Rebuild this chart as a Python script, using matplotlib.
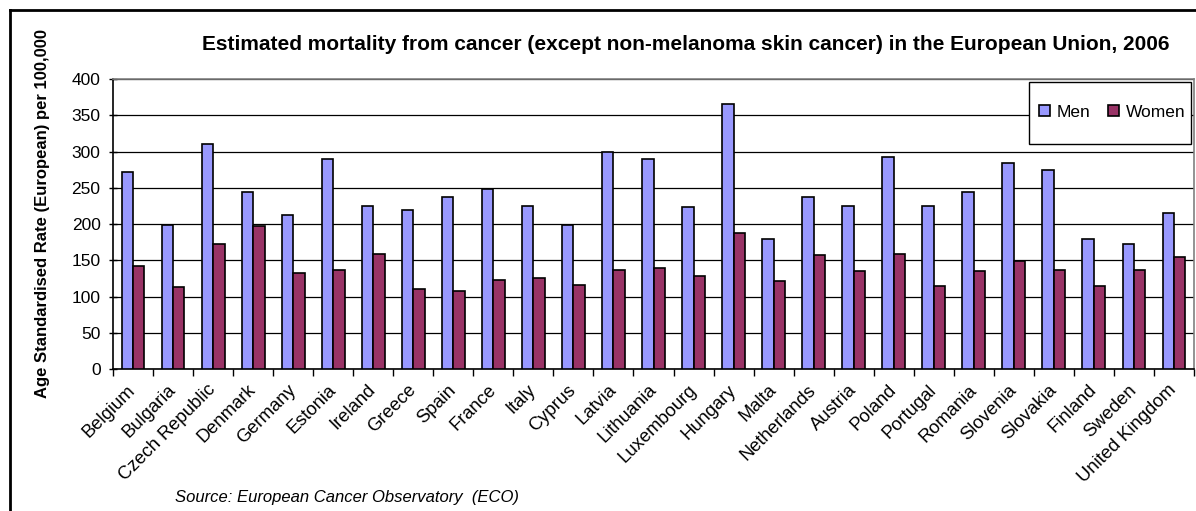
import matplotlib
matplotlib.use("Agg")
import matplotlib.pyplot as plt
import matplotlib.transforms as mtransforms
import numpy as np
from matplotlib.lines import Line2D
from matplotlib.patches import Rectangle

plt.rcParams['font.family'] = ['Liberation Sans', 'DejaVu Sans']

countries = ["Belgium", "Bulgaria", "Czech Republic", "Denmark", "Germany", "Estonia",
             "Ireland", "Greece", "Spain", "France", "Italy", "Cyprus", "Latvia",
             "Lithuania", "Luxembourg", "Hungary", "Malta", "Netherlands", "Austria",
             "Poland", "Portugal", "Romania", "Slovenia", "Slovakia", "Finland",
             "Sweden", "United Kingdom"]
men = [272, 199, 310, 244, 213, 289, 225, 220, 237, 248, 225, 199, 299,
       289, 223, 365, 180, 237, 225, 293, 225, 244, 284, 275, 180, 173, 215]
women = [142, 113, 173, 197, 133, 137, 159, 111, 107, 123, 126, 116, 137,
         140, 128, 187, 121, 157, 135, 159, 114, 135, 149, 137, 114, 137, 154]
yticks = [0, 50, 100, 150, 200, 250, 300, 350, 400]

title = "Estimated mortality from cancer (except non-melanoma skin cancer) in the European Union, 2006"
ylabel = "Age Standardised Rate (European) per 100,000"
source = "Source: European Cancer Observatory  (ECO)"

W, H = 1196, 511
fig = plt.figure(figsize=(W / 100, H / 100), dpi=100)

# outer frame (left and top edges visible)
fig.add_artist(Line2D([10 / W, 10 / W], [0, 1 - 10 / H], color='black', lw=2, transform=fig.transFigure))
fig.add_artist(Line2D([10 / W, 1], [1 - 10 / H, 1 - 10 / H], color='black', lw=2, transform=fig.transFigure))

left, right, top, bottom = 113, 1194, 79, 369
ax = fig.add_axes([left / W, 1 - bottom / H, (right - left) / W, (bottom - top) / H])

n = len(countries)
x = np.arange(n)
bw = 1 / 3.5
ax.bar(x - bw / 2, men, bw, color='#9999FF', edgecolor='black', linewidth=1.2, label='Men', zorder=3)
ax.bar(x + bw / 2, women, bw, color='#993366', edgecolor='black', linewidth=1.2, label='Women', zorder=3)

ax.set_xlim(-0.5, n - 0.5)
ax.set_ylim(0, 400)
ax.set_yticks(yticks)
ax.set_yticklabels([str(v) for v in yticks], fontsize=12.5)
ax.yaxis.grid(True, color='black', lw=0.9, zorder=0)
ax.set_axisbelow(True)

ax.set_xticks(x)
ax.set_xticklabels(countries, rotation=45, ha='right', rotation_mode='anchor', fontsize=13.2)
ax.tick_params(axis='x', length=0, pad=9)
shift = mtransforms.ScaledTranslation(-6 / 100, 0, fig.dpi_scale_trans)
for lab in ax.get_xticklabels():
    lab.set_transform(lab.get_transform() + shift)
ax.set_xticks(np.arange(-0.5, n, 1), minor=True)
ax.tick_params(axis='x', which='minor', length=5, direction='out', color='black', width=1)
ax.tick_params(axis='y', length=6, direction='inout', width=1, pad=6)

for s in ['top', 'right']:
    ax.spines[s].set_color('#808080')
    ax.spines[s].set_linewidth(1.2)
ax.spines['left'].set_color('black')
ax.spines['bottom'].set_color('black')
ax.spines['left'].set_linewidth(1.2)
ax.spines['bottom'].set_linewidth(1.2)

# legend box
lx0, lx1 = (1029 - left) / (right - left), (1191 - left) / (right - left)
ly0, ly1 = (bottom - 144) / (bottom - top), (bottom - 82) / (bottom - top)
ax.add_patch(Rectangle((lx0, ly0), lx1 - lx0, ly1 - ly0, transform=ax.transAxes,
                       facecolor='white', edgecolor='black', lw=1, zorder=5, clip_on=False))
leg = ax.legend(loc='center', bbox_to_anchor=((lx0 + lx1) / 2 + 0.002, (bottom - 112) / (bottom - top)),
                ncol=2, fontsize=12.5, frameon=False,
                handlelength=0.65, handleheight=0.65, handletextpad=0.4, columnspacing=1.0,
                borderpad=0, borderaxespad=0)
leg.set_zorder(6)

fig.text(686 / W, 1 - 44 / H, title, ha='center', va='center', fontsize=15, fontweight='bold')
fig.text(43 / W, 1 - 213 / H, ylabel, ha='center', va='center', rotation=90, fontsize=12, fontweight='bold')
fig.text(175 / W, 1 - 497 / H, source, ha='left', va='center', fontsize=12, style='italic')

fig.savefig('out.png', dpi=100)
